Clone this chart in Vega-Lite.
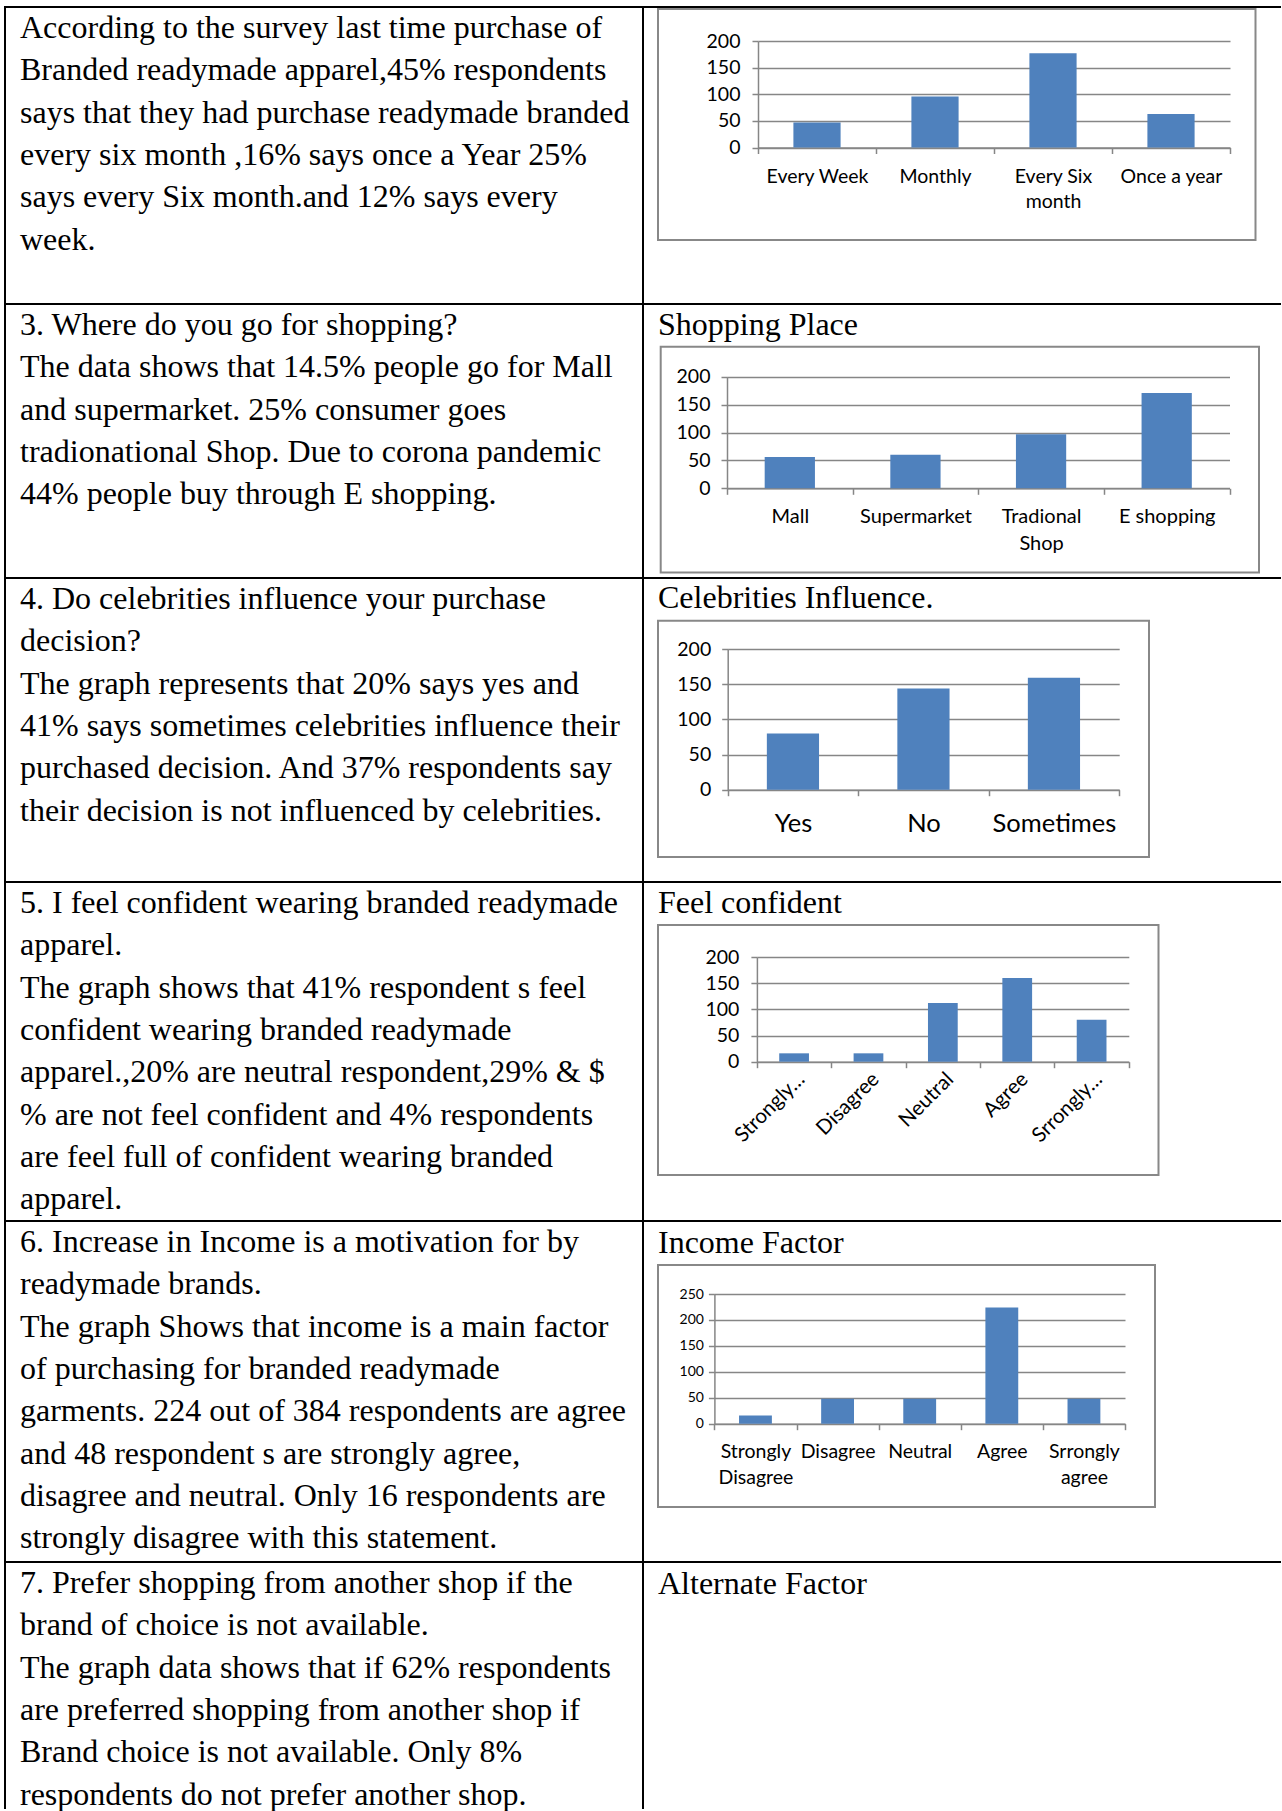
{
  "$schema": "https://vega.github.io/schema/vega-lite/v6.json",
  "padding": {"left": 4, "top": 6, "right": 0, "bottom": 0},
  "background": "white",
  "bounds": "flush",
  "spacing": 0,
  "columns": 2,
  "datasets": {
    "lines": [
      {"cell": 1, "line": 0, "text": "According to the survey last time purchase of"},
      {"cell": 1, "line": 1, "text": "Branded readymade apparel,45% respondents"},
      {"cell": 1, "line": 2, "text": "says that they had purchase readymade branded"},
      {"cell": 1, "line": 3, "text": "every six month ,16% says once a Year 25%"},
      {"cell": 1, "line": 4, "text": "says every Six month.and 12% says every"},
      {"cell": 1, "line": 5, "text": "week."},
      {"cell": 2, "line": 0, "text": "3. Where do you go for shopping?"},
      {"cell": 2, "line": 1, "text": "The data shows that 14.5% people go for Mall"},
      {"cell": 2, "line": 2, "text": "and supermarket. 25% consumer goes"},
      {"cell": 2, "line": 3, "text": "tradionational Shop. Due to corona pandemic"},
      {"cell": 2, "line": 4, "text": "44% people buy through E shopping."},
      {"cell": 3, "line": 0, "text": "4. Do celebrities influence your purchase"},
      {"cell": 3, "line": 1, "text": "decision?"},
      {"cell": 3, "line": 2, "text": "The graph represents that 20% says yes and"},
      {"cell": 3, "line": 3, "text": "41% says sometimes celebrities influence their"},
      {"cell": 3, "line": 4, "text": "purchased decision. And 37% respondents say"},
      {"cell": 3, "line": 5, "text": "their decision is not influenced by celebrities."},
      {"cell": 4, "line": 0, "text": "5. I feel confident wearing branded readymade"},
      {"cell": 4, "line": 1, "text": "apparel."},
      {"cell": 4, "line": 2, "text": "The graph shows that 41% respondent s feel"},
      {"cell": 4, "line": 3, "text": "confident wearing branded readymade"},
      {"cell": 4, "line": 4, "text": "apparel.,20% are neutral respondent,29% & $"},
      {"cell": 4, "line": 5, "text": "% are not feel confident and 4% respondents"},
      {"cell": 4, "line": 6, "text": "are feel full of confident wearing branded"},
      {"cell": 4, "line": 7, "text": "apparel."},
      {"cell": 5, "line": 0, "text": "6. Increase in Income is a motivation for by"},
      {"cell": 5, "line": 1, "text": "readymade brands."},
      {"cell": 5, "line": 2, "text": "The graph Shows that income is a main factor"},
      {"cell": 5, "line": 3, "text": "of purchasing for branded readymade"},
      {"cell": 5, "line": 4, "text": "garments. 224 out of 384 respondents are agree"},
      {"cell": 5, "line": 5, "text": "and 48 respondent s are strongly agree,"},
      {"cell": 5, "line": 6, "text": "disagree and neutral. Only 16 respondents are"},
      {"cell": 5, "line": 7, "text": "strongly disagree with this statement."},
      {"cell": 6, "line": 0, "text": "7. Prefer shopping from another shop if the"},
      {"cell": 6, "line": 1, "text": "brand of choice is not available."},
      {"cell": 6, "line": 2, "text": "The graph data shows that if 62% respondents"},
      {"cell": 6, "line": 3, "text": "are preferred shopping from another shop if"},
      {"cell": 6, "line": 4, "text": "Brand choice is not available. Only 8%"},
      {"cell": 6, "line": 5, "text": "respondents do not prefer another shop."}
    ],
    "responses": [
      {"chart": "Purchase frequency", "category": "Every Week", "respondents": 47},
      {"chart": "Purchase frequency", "category": "Monthly", "respondents": 96},
      {"chart": "Purchase frequency", "category": "Every Six month", "respondents": 177},
      {"chart": "Purchase frequency", "category": "Once a year", "respondents": 63},
      {"chart": "Shopping Place", "category": "Mall", "respondents": 56},
      {"chart": "Shopping Place", "category": "Supermarket", "respondents": 60},
      {"chart": "Shopping Place", "category": "Tradional Shop", "respondents": 97},
      {"chart": "Shopping Place", "category": "E shopping", "respondents": 171},
      {"chart": "Celebrities Influence", "category": "Yes", "respondents": 80},
      {"chart": "Celebrities Influence", "category": "No", "respondents": 144},
      {"chart": "Celebrities Influence", "category": "Sometimes", "respondents": 159},
      {"chart": "Feel confident", "category": "Strongly Disagree", "respondents": 16},
      {"chart": "Feel confident", "category": "Disagree", "respondents": 16},
      {"chart": "Feel confident", "category": "Neutral", "respondents": 112},
      {"chart": "Feel confident", "category": "Agree", "respondents": 160},
      {"chart": "Feel confident", "category": "Srrongly agree", "respondents": 80},
      {"chart": "Income Factor", "category": "Strongly Disagree", "respondents": 16},
      {"chart": "Income Factor", "category": "Disagree", "respondents": 48},
      {"chart": "Income Factor", "category": "Neutral", "respondents": 48},
      {"chart": "Income Factor", "category": "Agree", "respondents": 224},
      {"chart": "Income Factor", "category": "Srrongly agree", "respondents": 48}
    ]
  },
  "concat": [
    {
      "width": 638, "height": 297,
      "data": {"name": "lines"},
      "transform": [{"filter": "datum.cell == 1"}],
      "mark": {"type": "text", "align": "left", "baseline": "middle", "font": "Liberation Serif", "fontSize": 32, "color": "black"},
      "encoding": {
        "x": {"datum": 0, "type": "quantitative", "scale": {"domain": [0, 1], "range": [15, 625]}, "axis": null},
        "y": {"field": "line", "type": "quantitative", "scale": {"domain": [0, 1], "range": [21, 63.3], "zero": false, "nice": false}, "axis": null},
        "text": {"field": "text"}
      }
    },
    {
      "width": 638, "height": 297,
      "view": {"stroke": null},
      "layer": [
        {
          "data": {"values": [{"edge": "top"}]},
          "mark": {"type": "rule", "color": "black", "strokeWidth": 2},
          "encoding": {"y": {"datum": 0, "type": "quantitative", "scale": {"domain": [0, 1], "range": [0, 297], "zero": false, "nice": false}, "axis": null}}
        },
        {
          "data": {"values": [{"edge": "bottom"}]},
          "mark": {"type": "rule", "color": "black", "strokeWidth": 2},
          "encoding": {"y": {"datum": 1, "type": "quantitative", "scale": {"domain": [0, 1], "range": [0, 297], "zero": false, "nice": false}, "axis": null}}
        },
        {
          "data": {"values": [{"part": "chart area"}]},
          "mark": {"type": "rect", "filled": false, "color": "#888888", "strokeWidth": 2},
          "encoding": {
            "x": {"datum": 0, "type": "quantitative", "scale": {"domain": [0, 1], "range": [15, 612.5]}, "axis": null},
            "x2": {"datum": 1},
            "y": {"datum": 0, "type": "quantitative", "scale": {"domain": [0, 1], "range": [2, 233], "zero": false, "nice": false}, "axis": null},
            "y2": {"datum": 1}
          }
        },
        {
          "data": {"name": "responses"},
          "transform": [{"filter": "datum.chart == 'Purchase frequency'"}],
          "mark": {"type": "bar", "color": "#4F81BD", "width": {"band": 0.4}},
          "encoding": {
            "x": {"field": "category", "type": "nominal", "sort": null,
              "scale": {"range": [115, 587], "paddingInner": 0, "paddingOuter": 0},
              "axis": {"orient": "bottom", "offset": -156.5, "title": null, "labelAngle": 0, "tickBand": "extent", "domainColor": "#868686", "domainWidth": 1.5, "tickColor": "#868686", "tickWidth": 1.5, "tickSize": 6, "labelFont": "Lato", "labelFontSize": 19.5, "labelColor": "black", "labelPadding": 13.5, "labelLineHeight": 25.5, "labelExpr": "datum.value == 'Every Six month' ? ['Every Six', 'month'] : datum.label"}},
            "y": {"field": "respondents", "type": "quantitative",
              "scale": {"domain": [0, 200], "range": [140.5, 34], "nice": false},
              "axis": {"orient": "left", "offset": -115, "title": null, "values": [0, 50, 100, 150, 200], "grid": true, "gridColor": "#868686", "gridWidth": 1.5, "domainColor": "#868686", "domainWidth": 1.5, "tickColor": "#868686", "tickWidth": 1.5, "tickSize": 6, "labelFont": "Lato", "labelFontSize": 19.5, "labelColor": "black", "labelPadding": 12}}
          }
        }
      ],
      "resolve": {"scale": {"x": "independent", "y": "independent"}}
    },
    {
      "width": 638, "height": 274,
      "data": {"name": "lines"},
      "transform": [{"filter": "datum.cell == 2"}],
      "mark": {"type": "text", "align": "left", "baseline": "middle", "font": "Liberation Serif", "fontSize": 32, "color": "black"},
      "encoding": {
        "x": {"datum": 0, "type": "quantitative", "scale": {"domain": [0, 1], "range": [15, 625]}, "axis": null},
        "y": {"field": "line", "type": "quantitative", "scale": {"domain": [0, 1], "range": [21, 63.3], "zero": false, "nice": false}, "axis": null},
        "text": {"field": "text"}
      }
    },
    {
      "width": 638, "height": 274,
      "view": {"stroke": null},
      "layer": [
        {
          "data": {"values": [{"edge": "bottom"}]},
          "mark": {"type": "rule", "color": "black", "strokeWidth": 2},
          "encoding": {"y": {"datum": 1, "type": "quantitative", "scale": {"domain": [0, 1], "range": [0, 274], "zero": false, "nice": false}, "axis": null}}
        },
        {
          "data": {"values": [{"title": "Shopping Place"}]},
          "mark": {"type": "text", "align": "left", "baseline": "middle", "font": "Liberation Serif", "fontSize": 32, "color": "black"},
          "encoding": {
            "x": {"datum": 0, "type": "quantitative", "scale": {"domain": [0, 1], "range": [15, 16]}, "axis": null},
            "y": {"datum": 0, "type": "quantitative", "scale": {"domain": [0, 1], "range": [21, 22], "zero": false, "nice": false}, "axis": null},
            "text": {"field": "title"}
          }
        },
        {
          "data": {"values": [{"part": "chart area"}]},
          "mark": {"type": "rect", "filled": false, "color": "#888888", "strokeWidth": 2},
          "encoding": {
            "x": {"datum": 0, "type": "quantitative", "scale": {"domain": [0, 1], "range": [17.7, 616]}, "axis": null},
            "x2": {"datum": 1},
            "y": {"datum": 0, "type": "quantitative", "scale": {"domain": [0, 1], "range": [42.7, 268.5], "zero": false, "nice": false}, "axis": null},
            "y2": {"datum": 1}
          }
        },
        {
          "data": {"name": "responses"},
          "transform": [{"filter": "datum.chart == 'Shopping Place'"}],
          "mark": {"type": "bar", "color": "#4F81BD", "width": {"band": 0.4}},
          "encoding": {
            "x": {"field": "category", "type": "nominal", "sort": null,
              "scale": {"range": [84, 586.5], "paddingInner": 0, "paddingOuter": 0},
              "axis": {"orient": "bottom", "offset": -89.7, "title": null, "labelAngle": 0, "tickBand": "extent", "domainColor": "#868686", "domainWidth": 1.5, "tickColor": "#868686", "tickWidth": 1.5, "tickSize": 6, "labelFont": "Lato", "labelFontSize": 20, "labelColor": "black", "labelPadding": 12.5, "labelLineHeight": 26.5, "labelExpr": "datum.value == 'Tradional Shop' ? ['Tradional', 'Shop'] : datum.label"}},
            "y": {"field": "respondents", "type": "quantitative",
              "scale": {"domain": [0, 200], "range": [184.3, 72.7], "nice": false},
              "axis": {"orient": "left", "offset": -84, "title": null, "values": [0, 50, 100, 150, 200], "grid": true, "gridColor": "#868686", "gridWidth": 1.5, "domainColor": "#868686", "domainWidth": 1.5, "tickColor": "#868686", "tickWidth": 1.5, "tickSize": 6, "labelFont": "Lato", "labelFontSize": 19.5, "labelColor": "black", "labelPadding": 11}}
          }
        }
      ],
      "resolve": {"scale": {"x": "independent", "y": "independent"}}
    },
    {
      "width": 638, "height": 304,
      "data": {"name": "lines"},
      "transform": [{"filter": "datum.cell == 3"}],
      "mark": {"type": "text", "align": "left", "baseline": "middle", "font": "Liberation Serif", "fontSize": 32, "color": "black"},
      "encoding": {
        "x": {"datum": 0, "type": "quantitative", "scale": {"domain": [0, 1], "range": [15, 625]}, "axis": null},
        "y": {"field": "line", "type": "quantitative", "scale": {"domain": [0, 1], "range": [21, 63.3], "zero": false, "nice": false}, "axis": null},
        "text": {"field": "text"}
      }
    },
    {
      "width": 638, "height": 304,
      "view": {"stroke": null},
      "layer": [
        {
          "data": {"values": [{"edge": "bottom"}]},
          "mark": {"type": "rule", "color": "black", "strokeWidth": 2},
          "encoding": {"y": {"datum": 1, "type": "quantitative", "scale": {"domain": [0, 1], "range": [0, 304], "zero": false, "nice": false}, "axis": null}}
        },
        {
          "data": {"values": [{"title": "Celebrities Influence."}]},
          "mark": {"type": "text", "align": "left", "baseline": "middle", "font": "Liberation Serif", "fontSize": 32, "color": "black"},
          "encoding": {
            "x": {"datum": 0, "type": "quantitative", "scale": {"domain": [0, 1], "range": [15, 16]}, "axis": null},
            "y": {"datum": 0, "type": "quantitative", "scale": {"domain": [0, 1], "range": [20.3, 21], "zero": false, "nice": false}, "axis": null},
            "text": {"field": "title"}
          }
        },
        {
          "data": {"values": [{"part": "chart area"}]},
          "mark": {"type": "rect", "filled": false, "color": "#888888", "strokeWidth": 2},
          "encoding": {
            "x": {"datum": 0, "type": "quantitative", "scale": {"domain": [0, 1], "range": [15, 506]}, "axis": null},
            "x2": {"datum": 1},
            "y": {"datum": 0, "type": "quantitative", "scale": {"domain": [0, 1], "range": [42.7, 279], "zero": false, "nice": false}, "axis": null},
            "y2": {"datum": 1}
          }
        },
        {
          "data": {"name": "responses"},
          "transform": [{"filter": "datum.chart == 'Celebrities Influence'"}],
          "mark": {"type": "bar", "color": "#4F81BD", "width": {"band": 0.4}},
          "encoding": {
            "x": {"field": "category", "type": "nominal", "sort": null,
              "scale": {"range": [84.7, 476.2], "paddingInner": 0, "paddingOuter": 0},
              "axis": {"orient": "bottom", "offset": -92.3, "title": null, "labelAngle": 0, "tickBand": "extent", "domainColor": "#868686", "domainWidth": 1.5, "tickColor": "#868686", "tickWidth": 1.5, "tickSize": 6, "labelFont": "Lato", "labelFontSize": 25.5, "labelColor": "black", "labelPadding": 16}},
            "y": {"field": "respondents", "type": "quantitative",
              "scale": {"domain": [0, 200], "range": [211.7, 71], "nice": false},
              "axis": {"orient": "left", "offset": -84.7, "title": null, "values": [0, 50, 100, 150, 200], "grid": true, "gridColor": "#868686", "gridWidth": 1.5, "domainColor": "#868686", "domainWidth": 1.5, "tickColor": "#868686", "tickWidth": 1.5, "tickSize": 6, "labelFont": "Lato", "labelFontSize": 19.5, "labelColor": "black", "labelPadding": 11}}
          }
        }
      ],
      "resolve": {"scale": {"x": "independent", "y": "independent"}}
    },
    {
      "width": 638, "height": 339,
      "data": {"name": "lines"},
      "transform": [{"filter": "datum.cell == 4"}],
      "mark": {"type": "text", "align": "left", "baseline": "middle", "font": "Liberation Serif", "fontSize": 32, "color": "black"},
      "encoding": {
        "x": {"datum": 0, "type": "quantitative", "scale": {"domain": [0, 1], "range": [15, 625]}, "axis": null},
        "y": {"field": "line", "type": "quantitative", "scale": {"domain": [0, 1], "range": [21, 63.3], "zero": false, "nice": false}, "axis": null},
        "text": {"field": "text"}
      }
    },
    {
      "width": 638, "height": 339,
      "view": {"stroke": null},
      "layer": [
        {
          "data": {"values": [{"edge": "bottom"}]},
          "mark": {"type": "rule", "color": "black", "strokeWidth": 2},
          "encoding": {"y": {"datum": 1, "type": "quantitative", "scale": {"domain": [0, 1], "range": [0, 339], "zero": false, "nice": false}, "axis": null}}
        },
        {
          "data": {"values": [{"title": "Feel confident"}]},
          "mark": {"type": "text", "align": "left", "baseline": "middle", "font": "Liberation Serif", "fontSize": 32, "color": "black"},
          "encoding": {
            "x": {"datum": 0, "type": "quantitative", "scale": {"domain": [0, 1], "range": [15, 16]}, "axis": null},
            "y": {"datum": 0, "type": "quantitative", "scale": {"domain": [0, 1], "range": [20.7, 21], "zero": false, "nice": false}, "axis": null},
            "text": {"field": "title"}
          }
        },
        {
          "data": {"values": [{"part": "chart area"}]},
          "mark": {"type": "rect", "filled": false, "color": "#888888", "strokeWidth": 2},
          "encoding": {
            "x": {"datum": 0, "type": "quantitative", "scale": {"domain": [0, 1], "range": [15, 515.5]}, "axis": null},
            "x2": {"datum": 1},
            "y": {"datum": 0, "type": "quantitative", "scale": {"domain": [0, 1], "range": [43, 293], "zero": false, "nice": false}, "axis": null},
            "y2": {"datum": 1}
          }
        },
        {
          "data": {"name": "responses"},
          "transform": [{"filter": "datum.chart == 'Feel confident'"}],
          "mark": {"type": "bar", "color": "#4F81BD", "width": {"band": 0.4}},
          "encoding": {
            "x": {"field": "category", "type": "nominal", "sort": null,
              "scale": {"range": [113.9, 485.8], "paddingInner": 0, "paddingOuter": 0},
              "axis": {"orient": "bottom", "offset": -159.3, "title": null, "labelAngle": -45, "labelAlign": "right", "labelBaseline": "top", "tickBand": "extent", "domainColor": "#868686", "domainWidth": 1.5, "tickColor": "#868686", "tickWidth": 1.5, "tickSize": 6, "labelFont": "Lato", "labelFontSize": 20.5, "labelColor": "black", "labelPadding": 1, "labelExpr": "indexof(datum.label, ' ') > 0 ? slice(datum.label, 0, indexof(datum.label, ' ')) + '…' : datum.label"}},
            "y": {"field": "respondents", "type": "quantitative",
              "scale": {"domain": [0, 200], "range": [179.7, 75], "nice": false},
              "axis": {"orient": "left", "offset": -113.9, "title": null, "values": [0, 50, 100, 150, 200], "grid": true, "gridColor": "#868686", "gridWidth": 1.5, "domainColor": "#868686", "domainWidth": 1.5, "tickColor": "#868686", "tickWidth": 1.5, "tickSize": 6, "labelFont": "Lato", "labelFontSize": 19.5, "labelColor": "black", "labelPadding": 12}}
          }
        }
      ],
      "resolve": {"scale": {"x": "independent", "y": "independent"}}
    },
    {
      "width": 638, "height": 341,
      "data": {"name": "lines"},
      "transform": [{"filter": "datum.cell == 5"}],
      "mark": {"type": "text", "align": "left", "baseline": "middle", "font": "Liberation Serif", "fontSize": 32, "color": "black"},
      "encoding": {
        "x": {"datum": 0, "type": "quantitative", "scale": {"domain": [0, 1], "range": [15, 625]}, "axis": null},
        "y": {"field": "line", "type": "quantitative", "scale": {"domain": [0, 1], "range": [21, 63.3], "zero": false, "nice": false}, "axis": null},
        "text": {"field": "text"}
      }
    },
    {
      "width": 638, "height": 341,
      "view": {"stroke": null},
      "layer": [
        {
          "data": {"values": [{"edge": "bottom"}]},
          "mark": {"type": "rule", "color": "black", "strokeWidth": 2},
          "encoding": {"y": {"datum": 1, "type": "quantitative", "scale": {"domain": [0, 1], "range": [0, 341], "zero": false, "nice": false}, "axis": null}}
        },
        {
          "data": {"values": [{"title": "Income Factor"}]},
          "mark": {"type": "text", "align": "left", "baseline": "middle", "font": "Liberation Serif", "fontSize": 32, "color": "black"},
          "encoding": {
            "x": {"datum": 0, "type": "quantitative", "scale": {"domain": [0, 1], "range": [15, 16]}, "axis": null},
            "y": {"datum": 0, "type": "quantitative", "scale": {"domain": [0, 1], "range": [21.7, 22], "zero": false, "nice": false}, "axis": null},
            "text": {"field": "title"}
          }
        },
        {
          "data": {"values": [{"part": "chart area"}]},
          "mark": {"type": "rect", "filled": false, "color": "#888888", "strokeWidth": 2},
          "encoding": {
            "x": {"datum": 0, "type": "quantitative", "scale": {"domain": [0, 1], "range": [15, 512]}, "axis": null},
            "x2": {"datum": 1},
            "y": {"datum": 0, "type": "quantitative", "scale": {"domain": [0, 1], "range": [44, 286], "zero": false, "nice": false}, "axis": null},
            "y2": {"datum": 1}
          }
        },
        {
          "data": {"name": "responses"},
          "transform": [{"filter": "datum.chart == 'Income Factor'"}],
          "mark": {"type": "bar", "color": "#4F81BD", "width": {"band": 0.4}},
          "encoding": {
            "x": {"field": "category", "type": "nominal", "sort": null,
              "scale": {"range": [71.4, 482], "paddingInner": 0, "paddingOuter": 0},
              "axis": {"orient": "bottom", "offset": -138.3, "title": null, "labelAngle": 0, "tickBand": "extent", "domainColor": "#868686", "domainWidth": 1.5, "tickColor": "#868686", "tickWidth": 1.5, "tickSize": 6, "labelFont": "Lato", "labelFontSize": 19.5, "labelColor": "black", "labelPadding": 12.5, "labelLineHeight": 26.5, "labelExpr": "split(datum.label, ' ')"}},
            "y": {"field": "respondents", "type": "quantitative",
              "scale": {"domain": [0, 250], "range": [202.7, 73], "nice": false},
              "axis": {"orient": "left", "offset": -71.4, "title": null, "values": [0, 50, 100, 150, 200, 250], "grid": true, "gridColor": "#868686", "gridWidth": 1.5, "domainColor": "#868686", "domainWidth": 1.5, "tickColor": "#868686", "tickWidth": 1.5, "tickSize": 6, "labelFont": "Lato", "labelFontSize": 14, "labelColor": "black", "labelPadding": 5}}
          }
        }
      ],
      "resolve": {"scale": {"x": "independent", "y": "independent"}}
    },
    {
      "width": 638, "height": 247,
      "view": {"stroke": null},
      "layer": [
        {
          "data": {"values": [{"edge": "left"}]},
          "mark": {"type": "rule", "color": "black", "strokeWidth": 2},
          "encoding": {"x": {"datum": 0, "type": "quantitative", "scale": {"domain": [0, 1], "range": [0, 638], "zero": false, "nice": false}, "axis": null}}
        },
        {
          "data": {"values": [{"edge": "right"}]},
          "mark": {"type": "rule", "color": "black", "strokeWidth": 2},
          "encoding": {"x": {"datum": 1, "type": "quantitative", "scale": {"domain": [0, 1], "range": [0, 638], "zero": false, "nice": false}, "axis": null}}
        },
        {
          "data": {"name": "lines"},
          "transform": [{"filter": "datum.cell == 6"}],
          "mark": {"type": "text", "align": "left", "baseline": "middle", "font": "Liberation Serif", "fontSize": 32, "color": "black"},
          "encoding": {
            "x": {"datum": 0, "type": "quantitative", "scale": {"domain": [0, 1], "range": [15, 625]}, "axis": null},
            "y": {"field": "line", "type": "quantitative", "scale": {"domain": [0, 1], "range": [21, 63.3], "zero": false, "nice": false}, "axis": null},
            "text": {"field": "text"}
          }
        }
      ],
      "resolve": {"scale": {"x": "independent", "y": "independent"}}
    },
    {
      "width": 638, "height": 247,
      "view": {"stroke": null},
      "data": {"values": [{"title": "Alternate Factor"}]},
      "mark": {"type": "text", "align": "left", "baseline": "middle", "font": "Liberation Serif", "fontSize": 32, "color": "black"},
      "encoding": {
        "x": {"datum": 0, "type": "quantitative", "scale": {"domain": [0, 1], "range": [15, 16]}, "axis": null},
        "y": {"datum": 0, "type": "quantitative", "scale": {"domain": [0, 1], "range": [21.5, 22], "zero": false, "nice": false}, "axis": null},
        "text": {"field": "title"}
      }
    }
  ],
  "config": {
    "view": {"stroke": "black", "strokeWidth": 2},
    "concat": {"spacing": 0},
    "font": "Lato"
  }
}
